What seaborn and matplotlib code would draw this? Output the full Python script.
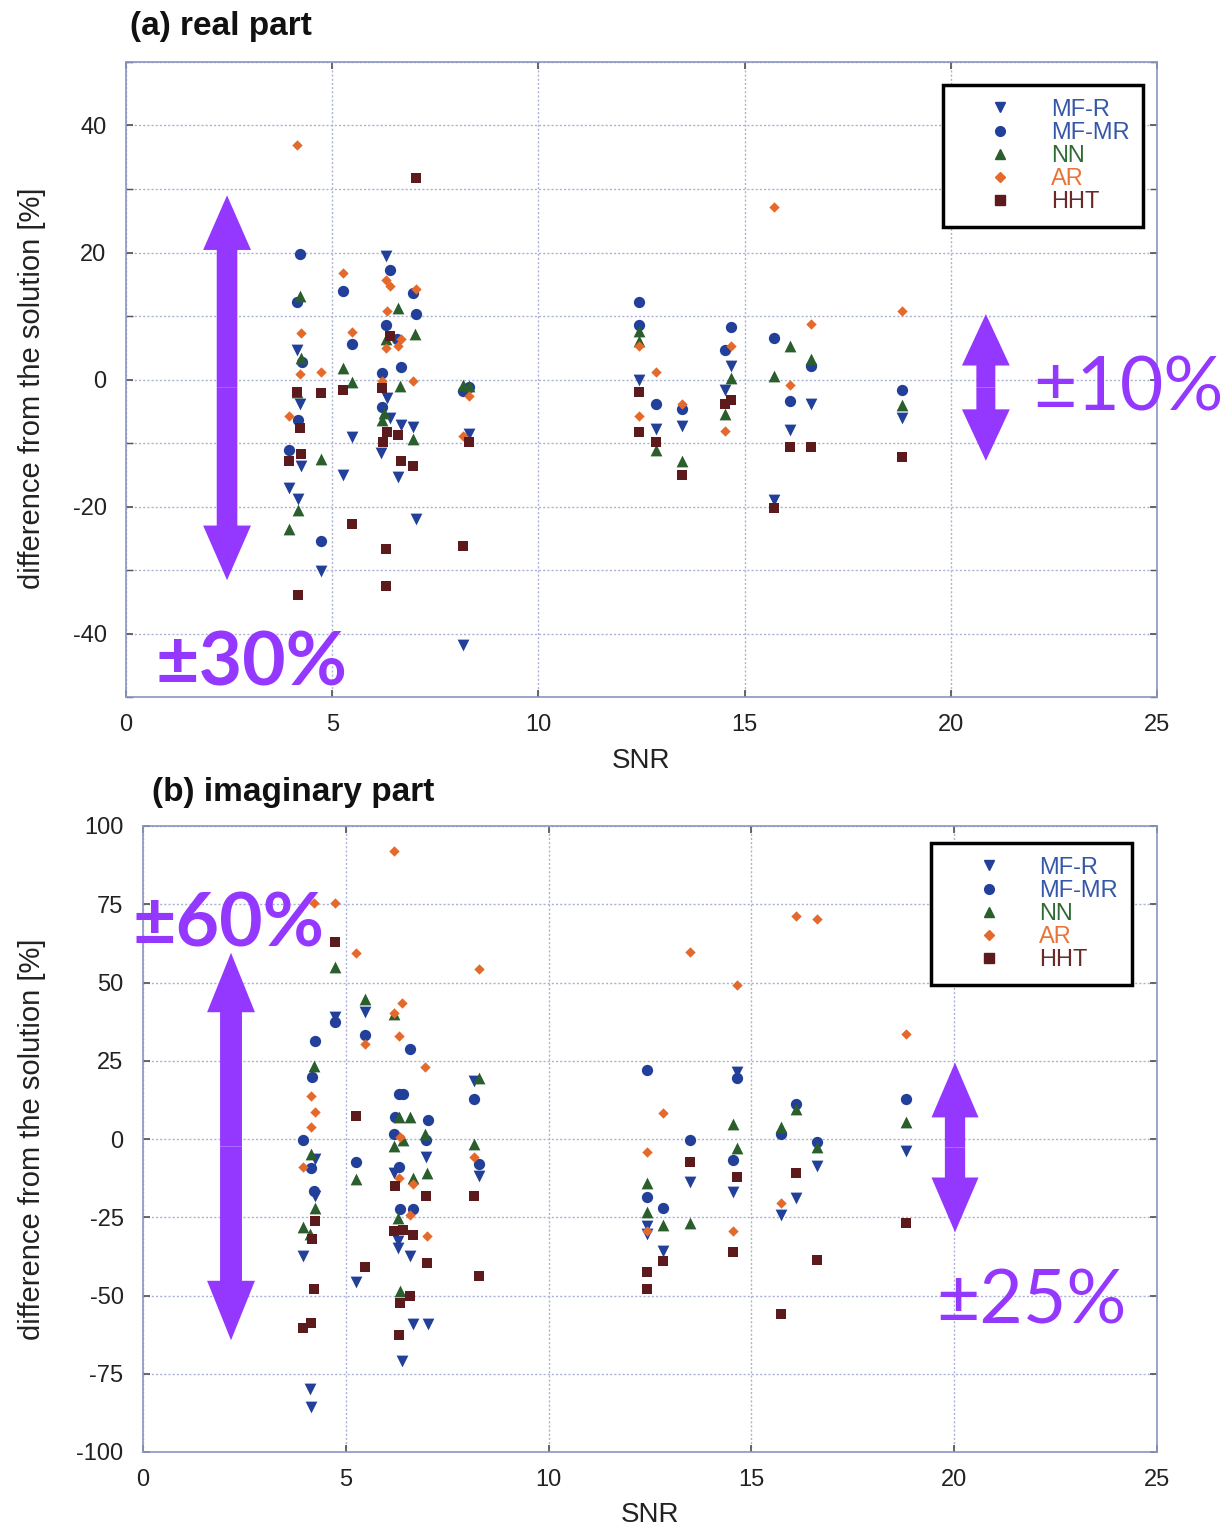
import numpy as np
import pandas as pd
import matplotlib
matplotlib.use("Agg")
import matplotlib.pyplot as plt
import seaborn as sns
from matplotlib.patches import FancyArrow
from matplotlib.lines import Line2D
from matplotlib.ticker import MultipleLocator

# ---------------- data: (a) real part ----------------
real_mfr_snr = [6.30, 4.14, 4.23, 6.33, 6.41, 6.67, 6.97, 5.47, 8.32, 4.25, 6.19, 6.60, 5.26, 3.96, 4.17, 7.02, 4.73, 8.18,
                12.44, 12.84, 13.49, 14.67, 14.53, 15.72, 16.10, 16.60, 18.82]
real_mfr_val = [19.4, 4.7, -3.8, -2.9, -6.0, -7.1, -7.5, -9.0, -8.6, -13.7, -11.5, -15.4, -15.0, -17.1, -18.8, -22.0, -30.1, -41.8,
                0.0, -7.8, -7.3, 2.1, -1.7, -19.0, -7.9, -3.8, -6.0]

real_mfmr_snr = [4.23, 6.41, 5.27, 6.97, 4.14, 7.03, 6.30, 6.56, 5.49, 4.26, 6.67, 6.21, 8.18, 8.32, 6.21, 4.17, 3.96, 4.73,
                 12.44, 12.44, 12.84, 13.49, 14.67, 14.53, 15.72, 16.10, 16.60, 18.82]
real_mfmr_val = [19.7, 17.2, 13.9, 13.7, 12.2, 10.3, 8.6, 6.4, 5.6, 2.7, 2.0, 1.1, -1.8, -1.2, -4.4, -6.3, -11.1, -25.4,
                 12.2, 8.6, -3.9, -4.7, 8.2, 4.7, 6.6, -3.4, 2.1, -1.6]

real_nn_snr = [4.23, 6.60, 7.01, 6.30, 4.25, 5.25, 5.47, 6.65, 8.18, 8.32, 4.14, 6.25, 6.21, 6.97, 4.73, 4.17, 3.95,
               12.44, 12.44, 12.84, 13.49, 14.67, 14.53, 15.72, 16.10, 16.60, 18.82]
real_nn_val = [13.1, 11.2, 7.2, 6.3, 3.4, 1.8, -0.4, -1.0, -0.8, -1.0, -1.9, -5.2, -6.3, -9.3, -12.5, -20.5, -23.6,
               7.7, 6.1, -11.1, -12.8, 0.2, -5.5, 0.5, 5.3, 3.2, -4.0]

real_ar_snr = [4.14, 5.25, 6.30, 6.41, 7.02, 6.33, 4.25, 5.47, 6.67, 6.60, 6.30, 4.22, 4.73, 6.21, 6.97, 8.32, 3.95, 8.18,
               12.44, 12.44, 12.84, 13.49, 14.67, 14.53, 15.72, 16.10, 16.60, 18.82]
real_ar_val = [36.9, 16.7, 15.6, 14.7, 14.2, 10.8, 7.3, 7.5, 6.4, 5.3, 5.0, 0.9, 1.2, -0.3, -0.3, -2.6, -5.8, -8.9,
               5.3, -5.7, 1.25, -3.9, 5.3, -8.1, 27.2, -0.8, 8.8, 10.8]

real_hht_snr = [7.02, 6.40, 4.14, 4.73, 5.25, 6.21, 4.23, 6.34, 6.60, 6.22, 8.32, 4.25, 3.96, 6.67, 6.97, 5.47, 6.30, 8.18, 4.17, 6.30,
                12.44, 12.44, 12.84, 13.49, 14.67, 14.53, 15.72, 16.10, 16.60, 18.82]
real_hht_val = [31.7, 6.9, -1.9, -2.1, -1.7, -1.4, -7.7, -8.2, -8.7, -9.8, -9.9, -11.7, -12.8, -12.9, -13.7, -22.7, -26.7, -26.2, -33.9, -32.5,
                -1.9, -8.2, -9.9, -15.1, -3.2, -3.8, -20.2, -10.6, -10.6, -12.2]

# ---------------- data: (b) imaginary part ----------------
imag_mfr_snr = [5.47, 4.73, 8.17, 4.25, 6.97, 6.19, 8.29, 4.24, 6.29, 6.29, 3.94, 6.58, 5.26, 6.65, 7.02, 6.39, 4.12, 4.14,
                14.65, 18.80, 16.61, 13.48, 14.55, 16.09, 15.73, 12.43, 12.43, 12.83]
imag_mfr_val = [40.7, 39.0, 18.6, -6.4, -5.7, -10.9, -11.8, -18.1, -32.5, -34.9, -37.3, -37.5, -45.8, -59.1, -59.1, -71.0, -80.0, -85.7,
                21.5, -3.8, -8.6, -13.6, -16.8, -18.8, -24.3, -27.7, -30.4, -35.9]

imag_mfmr_snr = [4.73, 5.47, 4.25, 6.59, 4.16, 8.17, 6.30, 6.40, 6.21, 7.02, 6.19, 6.97, 3.95, 4.14, 5.26, 8.29, 6.30, 4.22, 6.34, 6.66,
                 12.43, 14.65, 16.09, 18.80, 15.73, 13.48, 16.61, 14.55, 12.43, 12.83]
imag_mfmr_val = [37.4, 33.3, 31.3, 28.8, 19.8, 12.9, 14.3, 14.3, 6.9, 6.0, 1.5, -0.4, -0.3, -9.3, -7.5, -8.0, -9.1, -16.5, -22.4, -22.4,
                 22.1, 19.6, 11.3, 12.7, 1.5, -0.3, -1.1, -6.8, -18.4, -21.9]

imag_nn_snr = [4.73, 5.47, 6.19, 4.22, 8.29, 6.30, 6.59, 6.95, 6.40, 6.19, 8.17, 4.14, 7.01, 5.26, 6.65, 4.25, 6.29, 3.94, 4.12, 6.34,
               16.09, 18.80, 14.55, 15.73, 14.65, 16.61, 12.43, 12.43, 13.48, 12.83]
imag_nn_val = [55.0, 44.6, 39.8, 23.4, 19.4, 6.9, 6.9, 1.5, -0.4, -2.2, -1.7, -4.8, -10.9, -12.8, -12.6, -22.1, -25.1, -28.0, -30.2, -48.5,
               9.7, 5.5, 4.7, 3.9, -3.0, -2.5, -14.1, -23.2, -26.7, -27.4]

imag_ar_snr = [6.19, 4.22, 4.73, 5.26, 8.29, 6.39, 6.19, 6.30, 5.47, 6.95, 4.14, 4.25, 4.13, 6.34, 8.17, 3.95, 6.30, 6.65, 6.58, 7.01,
               16.09, 16.61, 13.48, 14.65, 18.80, 12.83, 12.43, 15.73, 12.43, 14.55]
imag_ar_val = [92.0, 75.5, 75.5, 59.5, 54.4, 43.6, 40.4, 33.0, 30.3, 23.1, 13.8, 8.7, 3.9, 0.7, -5.7, -9.1, -12.6, -14.4, -24.3, -31.1,
               71.4, 70.2, 59.7, 49.3, 33.6, 8.4, -4.1, -20.6, -29.3, -29.5]

imag_hht_snr = [4.73, 5.26, 6.21, 6.97, 8.17, 4.25, 4.16, 6.19, 6.40, 6.65, 7.01, 5.47, 8.29, 4.22, 6.58, 6.34, 4.13, 3.95, 6.30,
                13.48, 16.09, 14.65, 18.80, 14.55, 16.61, 12.83, 12.43, 12.43, 15.73]
imag_hht_val = [62.9, 7.4, -14.9, -18.1, -18.1, -26.3, -31.8, -29.5, -29.0, -30.7, -39.6, -41.0, -43.9, -47.9, -50.1, -52.5, -58.8, -60.4, -62.5,
                -7.5, -11.0, -12.3, -26.7, -36.2, -38.7, -38.9, -42.6, -47.9, -55.9]

methods = ["MF-R", "MF-MR", "NN", "AR", "HHT"]
real_x = [real_mfr_snr, real_mfmr_snr, real_nn_snr, real_ar_snr, real_hht_snr]
real_y = [real_mfr_val, real_mfmr_val, real_nn_val, real_ar_val, real_hht_val]
imag_x = [imag_mfr_snr, imag_mfmr_snr, imag_nn_snr, imag_ar_snr, imag_hht_snr]
imag_y = [imag_mfr_val, imag_mfmr_val, imag_nn_val, imag_ar_val, imag_hht_val]

# ---------------- styles ----------------
markers = {"MF-R": "v", "MF-MR": "o", "NN": "^", "AR": "D", "HHT": "s"}
sizes = {"MF-R": 72, "MF-MR": 66, "NN": 72, "AR": 28, "HHT": 60}
colors = {"MF-R": "#22409a", "MF-MR": "#22409a", "NN": "#2a5e2c", "AR": "#e5692b", "HHT": "#5c1a1c"}
text_colors = {"MF-R": "#3457a8", "MF-MR": "#3457a8", "NN": "#2f6b33", "AR": "#ea7438", "HHT": "#6a2a2a"}
purple = "#9438ff"
grid_c = "#aab3d6"
spine_c = "#8a96c4"

sns.set_theme(style="white")
plt.rcParams["font.family"] = ["Liberation Sans", "DejaVu Sans"]
plt.rcParams["axes.unicode_minus"] = False

fig = plt.figure(figsize=(12.28, 15.29), dpi=100)
ax1 = fig.add_axes([126 / 1228, 1 - 697 / 1529, 1031 / 1228, 635 / 1529])
ax2 = fig.add_axes([143 / 1228, 1 - 1452 / 1529, 1014 / 1228, 626 / 1529])


def make_df(xs, ys):
    frames = []
    for m, x, y in zip(methods, xs, ys):
        frames.append(pd.DataFrame({"SNR": x, "diff": y, "method": m}))
    return pd.concat(frames, ignore_index=True)


def draw_points(ax, df):
    for m in methods:
        sub = df[df["method"] == m]
        sns.scatterplot(data=sub, x="SNR", y="diff", marker=markers[m], color=colors[m],
                        s=sizes[m], linewidth=0, ax=ax, legend=False, zorder=4)


def style_axes(ax, ylim, ymajor, yminor, lab_x, lab_y, xl_y):
    ax.set_xlim(0, 25)
    ax.set_ylim(*ylim)
    ax.xaxis.set_major_locator(MultipleLocator(5))
    ax.yaxis.set_major_locator(MultipleLocator(ymajor))
    ax.yaxis.set_minor_locator(MultipleLocator(yminor))
    ax.grid(True, which="both", color=grid_c, linestyle=(0, (1.5, 1.5)), linewidth=1.0, zorder=0)
    ax.set_axisbelow(True)
    for s in ax.spines.values():
        s.set_color(spine_c)
        s.set_linewidth(1.2)
    ax.tick_params(axis="both", which="both", direction="in", colors="#555555", labelcolor="#222222",
                   labelsize=17, left=True, right=True, top=True, bottom=True, length=5)
    ax.tick_params(axis="y", which="major", pad=14)
    ax.tick_params(axis="x", which="major", pad=12)
    ax.set_xlabel("SNR", fontsize=20, color="#222222")
    ax.set_ylabel("difference from the solution [%]", fontsize=21, color="#222222")
    ax.yaxis.set_label_coords(lab_x, lab_y)
    ax.xaxis.set_label_coords(0.5, xl_y)


def double_arrow(ax, x, y0, y1, shaft_w, head_w, head_l):
    mid = (y0 + y1) / 2
    for tip in (y0, y1):
        ax.add_patch(FancyArrow(x, mid, 0, tip - mid, width=shaft_w, head_width=head_w,
                                head_length=head_l, length_includes_head=True, color=purple,
                                lw=0, clip_on=False, zorder=3))


def add_legend(ax, anchor):
    handles = [Line2D([], [], marker=markers[m], ls="", color=colors[m],
                      markersize=(5 if m == "AR" else 7)) for m in methods]
    leg = ax.legend(handles, methods, loc="upper right", bbox_to_anchor=anchor, borderaxespad=0,
                    fontsize=17, frameon=True, fancybox=False, handlelength=3.7, handletextpad=0.3,
                    labelspacing=0.05, borderpad=0.58)
    fr = leg.get_frame()
    fr.set_edgecolor("black")
    fr.set_linewidth(2.5)
    fr.set_facecolor("white")
    fr.set_alpha(1)
    for t, m in zip(leg.get_texts(), methods):
        t.set_color(text_colors[m])
    leg.set_zorder(6)


# ---------------- panel (a) ----------------
draw_points(ax1, make_df(real_x, real_y))
style_axes(ax1, (-50, 50), 20, 10, -0.078, 0.487, -0.080)
add_legend(ax1, (0.9864, 0.9638))
double_arrow(ax1, 2.45, 29.0, -31.6, 0.5, 1.16, 8.6)
double_arrow(ax1, 20.85, 10.3, -12.8, 0.46, 1.16, 8.1)
ax1.text(3.05, -44.8, "\u00b130%", fontsize=54, color=purple, family=["Lato", "DejaVu Sans"],
         fontweight="bold", ha="center", va="center", zorder=5, clip_on=False)
ax1.text(24.3, -1.5, "\u00b110%", fontsize=54, color=purple, family=["Lato", "DejaVu Sans"],
         ha="center", va="center", zorder=5, clip_on=False)

# ---------------- panel (b) ----------------
draw_points(ax2, make_df(imag_x, imag_y))
style_axes(ax2, (-100, 100), 25, 25, -0.096, 0.5, -0.080)
add_legend(ax2, (0.975, 0.973))
double_arrow(ax2, 2.17, 59.5, -64.3, 0.54, 1.18, 19.0)
double_arrow(ax2, 20.02, 24.4, -29.8, 0.5, 1.16, 17.5)
ax2.text(2.1, 68.5, "\u00b160%", fontsize=54, color=purple, family=["Lato", "DejaVu Sans"],
         fontweight="bold", ha="center", va="center", zorder=5, clip_on=False)
ax2.text(21.9, -52.0, "\u00b125%", fontsize=54, color=purple, family=["Lato", "DejaVu Sans"],
         ha="center", va="center", zorder=5, clip_on=False)

fig.text(130 / 1228, 1 - 27 / 1529, "(a) real part", fontsize=24, fontweight="bold",
         ha="left", va="center", color="#111111")
fig.text(152 / 1228, 1 - 792 / 1529, "(b) imaginary part", fontsize=24, fontweight="bold",
         ha="left", va="center", color="#111111")

fig.savefig("out.png", dpi=100)
